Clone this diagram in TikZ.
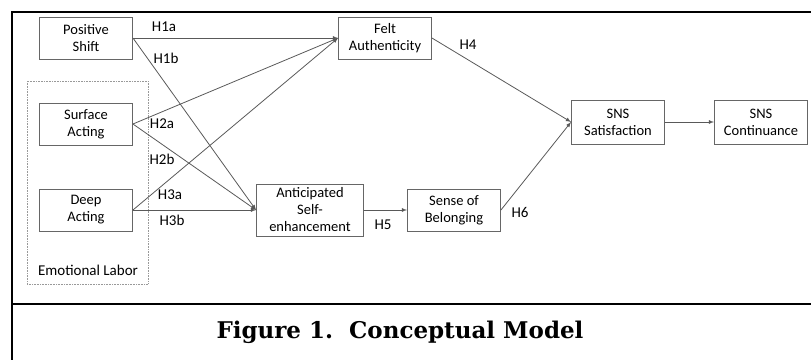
\documentclass[tikz,border=0pt]{standalone}
\usepackage{fontspec}
\setmainfont{Carlito}
\newfontfamily\capfont{DejaVu Serif}
\usetikzlibrary{arrows,positioning}

\begin{document}
\begin{tikzpicture}[x=1pt,y=-1pt,>=latex]
        \useasboundingbox (0,0) rectangle (811,360);
        % frame and caption
        \draw[line width=2.4pt] (811,12) -- (12,12) -- (12,360);
        \draw[line width=2.4pt] (12,304) -- (811,304);
        \node (cap) at (400,332) {\capfont\bfseries\fontsize{23}{27}\selectfont Figure 1.\ \ Conceptual Model};
        % emotional labor group
        \draw[densely dotted,draw=black!40,line width=0.6pt] (27,81) rectangle (148,284);
        \node[font=\fontsize{15}{17}\selectfont] (el) at (88,270) {Emotional Labor};
        \begin{scope}[every node/.style={draw=black!60,line width=0.9pt,align=center,
            minimum width=93pt,minimum height=42pt,inner sep=1pt,font=\fontsize{14.5}{17}\selectfont}]
          \node (ps) at (86,38) {Positive\\Shift};
          \node (sa) at (86,124) {Surface\\Acting};
          \node (da) at (86,210) {Deep\\Acting};
          \node (fa) at (385,38) {Felt\\Authenticity};
          \node[minimum width=107pt,minimum height=52pt] (ase) at (310,210) {Anticipated\\Self-\\enhancement};
          \node (sob) at (454,210) {Sense of\\Belonging};
          \node[minimum height=44pt] (sat) at (618,122) {SNS\\Satisfaction};
          \node[minimum height=44pt] (cont) at (761,122) {SNS\\Continuance};
        \end{scope}
        \begin{scope}[every edge/.style={draw=black!65,line width=0.8pt,->}]
          \path (ps.east) edge (fa.west);
          \path (ps.east) edge (ase.west);
          \path (sa.east) edge (fa.west);
          \path (sa.east) edge (ase.west);
          \path (da.east) edge (fa.west);
          \path (da.east) edge (ase.west);
          \path (fa.east) edge (sat.west);
          \path (ase.east) edge (sob.west);
          \path (sob.east) edge (sat.west);
          \path (sat.east) edge (cont.west);
        \end{scope}
        \begin{scope}[every node/.style={font=\fontsize{15}{17}\selectfont}]
          \node (h1a) at (164,27) {H1a};
          \node (h1b) at (166,58) {H1b};
          \node (h2a) at (162,124) {H2a};
          \node (h2b) at (162,159) {H2b};
          \node (h3a) at (170,195) {H3a};
          \node (h3b) at (172,220) {H3b};
          \node (h4) at (468,45) {H4};
          \node (h5) at (383,225) {H5};
          \node (h6) at (520,212) {H6};
        \end{scope}
      \end{tikzpicture}
\end{document}
